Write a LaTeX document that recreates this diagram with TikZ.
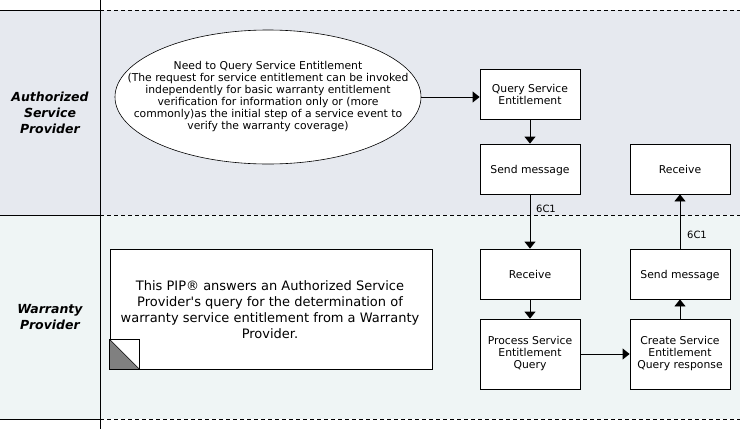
\documentclass[tikz,border=0pt]{standalone}
\usepackage{fontspec}
\setmainfont{DejaVu Sans}
\usetikzlibrary{arrows.meta,shapes.geometric}
\definecolor{bandA}{RGB}{230,233,239}
\definecolor{bandB}{RGB}{239,245,245}
\begin{document}
\begin{tikzpicture}[x=1pt,y=-1pt,
  proc/.style={draw,fill=white,line width=0.8pt,minimum width=100pt,minimum height=50pt,inner sep=0pt,align=center,font=\fontsize{10.8}{12}\selectfont},
  flow/.style={-{Triangle[width=11pt,length=7pt]},line width=0.8pt},
  lanelabel/.style={font=\fontsize{12.5}{16}\selectfont\bfseries\itshape,align=center},
  sepline/.style={dash pattern=on 4pt off 3pt,line width=0.6pt},
  msglabel/.style={font=\fontsize{10}{12}\selectfont,inner sep=0pt}]
\useasboundingbox (0,0) rectangle (740,429);
\fill[white] (0,0) rectangle (740,429);
\fill[bandA] (0,10) rectangle (740,215);
\fill[bandB] (0,215) rectangle (740,419);
% lane separators
\draw[line width=0.8pt] (100,0) -- (100,429);
\draw[line width=0.8pt] (0,10) -- (100,10);
\draw[line width=0.8pt] (0,215) -- (100,215);
\draw[line width=0.8pt] (0,419) -- (100,419);
\draw[sepline] (100,10) -- (740,10);
\draw[sepline] (100,215) -- (740,215);
\draw[sepline] (100,419) -- (740,419);
% lane labels
\node[lanelabel] (asp) at (50,113) {Authorized\\Service\\Provider};
\node[lanelabel] (wp) at (50,317) {Warranty\\Provider};
% ellipse
\node[ellipse,draw,fill=white,line width=0.6pt,minimum width=306pt,minimum height=134pt,inner sep=0pt] (need) at (268,97) {};
\node[align=center,font=\fontsize{10.8}{12}\selectfont,inner sep=0pt] (needtext) at (need.center) {Need to Query Service Entitlement\\(The request for service entitlement can be invoked\\independently for basic warranty entitlement\\verification for information only or (more\\commonly)as the initial step of a service event to\\verify the warranty coverage)};
% process boxes
\node[proc] (query) at (530,94) {Query Service\\Entitlement};
\node[proc,text depth=0pt] (send1) at (530,169) {Send message};
\node[proc] (recv2) at (680,169) {Receive};
\node[proc] (recv1) at (530,274) {Receive};
\node[proc,text depth=0pt] (send2) at (680,274) {Send message};
\node[proc,minimum height=70pt] (process) at (530,354) {Process Service\\Entitlement\\Query};
\node[proc,minimum height=70pt] (create) at (680,354) {Create Service\\Entitlement\\Query response};
% note
\node[draw,fill=white,line width=0.8pt,minimum width=322pt,minimum height=120pt,inner sep=0pt] (note) at (271,309) {};
\node[align=center,font=\fontsize{13}{16}\selectfont,inner sep=0pt] (notetext) at (270,310) {This PIP® answers an Authorized Service\\Provider\textquotesingle s query for the determination of\\warranty service entitlement from a Warranty\\Provider.};
\fill[gray] (note.south west) -- ++(0,-30) -- ++(30,30) -- cycle;
\draw[line width=0.6pt] (note.south west) rectangle ++(30,-30);
\draw[line width=0.6pt] (note.south west) ++(0,-30) -- ++(30,30);
% connectors
\draw[flow] (need.east) -- (need.east -| query.west);
\draw[flow] (query.south) -- (send1.north);
\draw[flow] (send1.south) -- (recv1.north);
\draw[flow] (recv1.south) -- (process.north);
\draw[flow] (process.east) -- (create.west);
\draw[flow] (create.north) -- (send2.south);
\draw[flow] (send2.north) -- (recv2.south);
\node[msglabel] (m1) at (546,209) {6C1};
\node[msglabel] (m2) at (697,235) {6C1};
\end{tikzpicture}
\end{document}
